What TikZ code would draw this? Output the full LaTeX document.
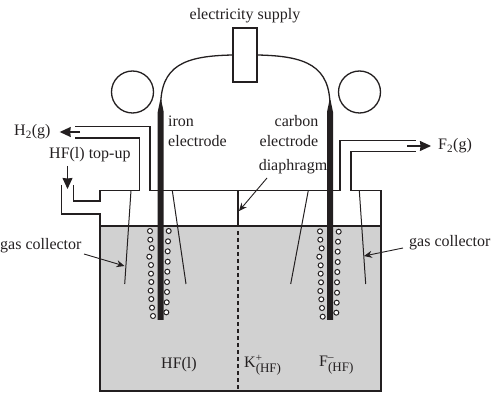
\documentclass[tikz,border=0pt]{standalone}
\usepackage{fontspec}
\setmainfont{Liberation Serif}
\usepackage{xcolor}
\usetikzlibrary{arrows.meta, positioning}
\definecolor{inkline}{HTML}{231F20}
\definecolor{melt}{HTML}{D1D1D1}

\begin{document}
\begin{tikzpicture}[
    x=1pt, y=-1pt,
    every node/.style={font=\fontsize{16}{16}\selectfont, text=inkline, inner sep=0pt},
    wall/.style={draw=inkline, line width=1.3pt},
    collector/.style={draw=inkline, line width=1pt},
    bubble/.style={circle, draw=inkline, fill=white, line width=1pt, minimum size=5pt},
    arrow/.style={-{Stealth[length=11pt, width=10pt, inset=0.5pt]}, draw=inkline, line width=1.2pt},
    thinarrow/.style={-{Stealth[length=8pt, width=7pt]}, draw=inkline, line width=0.9pt}
]
\useasboundingbox (0,0) rectangle (493,406);

% Melt and cell walls
\fill[melt] (100,226) rectangle (381,391);
\draw[wall] (61.5,185) -- (61.5,214) -- (100,214) -- (100,391) -- (381,391) -- (381,190.5) -- (351,190.5) -- (351,151.7) -- (416,151.7);
\draw[wall] (73.5,185) -- (73.5,201) -- (100,201) -- (100,190.5) -- (139.5,190.5) -- (139.5,138) -- (75,138);
\draw[wall] (75,126.7) -- (150,126.7) -- (150,190.5) -- (340,190.5) -- (340,140.7) -- (416,140.7);
\draw[wall] (100,226) -- (381,226);

% Gas collectors
\draw[collector] (131,190.5) -- (124.7,284);
\draw[collector] (172.3,190.5) -- (186,284);
\draw[collector] (308.3,190.5) -- (290.7,284);
\draw[collector] (359.3,190.5) -- (365.7,284);

% Diaphragm
\draw[wall] (238,190.5) -- (238,226);
\draw[wall, dash pattern=on 4pt off 3pt] (238,231) -- (238,391);

% Supply and wires
\node[wall, fill=white, minimum width=24pt, minimum height=54pt] (supply) at (245,55) {};
\node[above=4pt of supply] (supplylabel) {electricity supply};
\coordinate (irontop) at (160.7,108);
\coordinate (carbontop) at (330,108);
\draw[wall] (supply.west) .. controls (185,56) and (160,65) .. (irontop);
\draw[wall] (supply.east) .. controls (305,56) and (330.7,65) .. (carbontop);

% Electrodes
\fill[inkline] (160.2,100) -- (157.7,112) -- (157.7,320) -- (163.7,320) -- (163.7,112) -- (161.2,100) -- cycle;
\fill[inkline] (329.5,100) -- (327,112) -- (327,320) -- (333,320) -- (333,112) -- (330.5,100) -- cycle;

% Bubbles
\foreach \bx/\by in {150/231,150.3/239.7,151.7/248,149.3/256.7,151/265,151/273.7,151.3/282,150.7/290.7,151.3/299,152/307.7,153/316,
    168.7/231,168/241.3,167.7/251.3,167.7/261.7,167.3/271.7,167/282,167/292,166.7/302.3,166.3/312.3,
    320/231.3,320.3/239.7,321.7/248.3,319.3/256.7,320.7/265.3,320.7/273.7,321/282.3,320.3/291,321.3/299.3,322/308,322.7/316.7,
    338.7/231.7,338/241.7,337.7/251.7,337.7/262,337.3/272,337/282.3,337/292.7,336.7/302.7,336.3/312.7}
    \node[bubble] at (\bx,\by) {};

% Coils
\node[circle, wall, minimum size=42pt] (coilleft) at (132.5,92) {};
\node[circle, wall, minimum size=42pt] (coilright) at (359.5,92) {};

% Labels
\node[anchor=west] (iron) at (168,121) {iron};
\node[anchor=west] (ironel) at (168,141.5) {electrode};
\node (carbon) at (296.5,121) {carbon};
\node (carbonel) at (289,141.5) {electrode};
\node (diaphragm) at (293,167) {diaphragm};
\node[anchor=west] (htwo) at (14,132) {H\textsubscript{2}(g)};
\node[anchor=west] (topup) at (49,155) {HF(l) top-up};
\node[anchor=west] (ftwo) at (438,146) {F\textsubscript{2}(g)};
\node[anchor=west] (gasleft) at (0,246) {gas collector};
\node[anchor=west] (gasright) at (409,243) {gas collector};
\node (hfl) at (179,365) {HF(l)};
\node[anchor=west] (kion) at (244,365) {K$^{\mbox{\fontsize{11}{11}\selectfont +}}_{\mbox{\fontsize{13}{13}\selectfont (HF)}}$};
\node[anchor=west] (fion) at (319,365) {F$^{\mbox{\fontsize{11}{11}\selectfont --}}_{\mbox{\fontsize{13}{13}\selectfont (HF)}}$};

% Arrows
\coordinate (htwofrom) at (80,132);
\coordinate (ftwofrom) at (407,146);
\coordinate (topupfrom) at (67.5,166);
\coordinate (topupto) at (67.5,189);
\coordinate (gasleftfrom) at (84,254);
\coordinate (gasleftto) at (124.5,266);
\coordinate (gasrightfrom) at (403,248);
\coordinate (gasrightto) at (364,256);
\coordinate (diaphragmfrom) at (267,178);
\coordinate (diaphragmto) at (239,211);
\draw[arrow, shorten >=9pt] (htwofrom) -- (htwo.east);
\draw[arrow, shorten >=7pt] (ftwofrom) -- (ftwo.west);
\draw[arrow] (topupfrom) -- (topupto);
\draw[thinarrow] (gasleftfrom) -- (gasleftto);
\draw[thinarrow] (gasrightfrom) -- (gasrightto);
\draw[thinarrow] (diaphragmfrom) -- (diaphragmto);

\end{tikzpicture}
\end{document}
